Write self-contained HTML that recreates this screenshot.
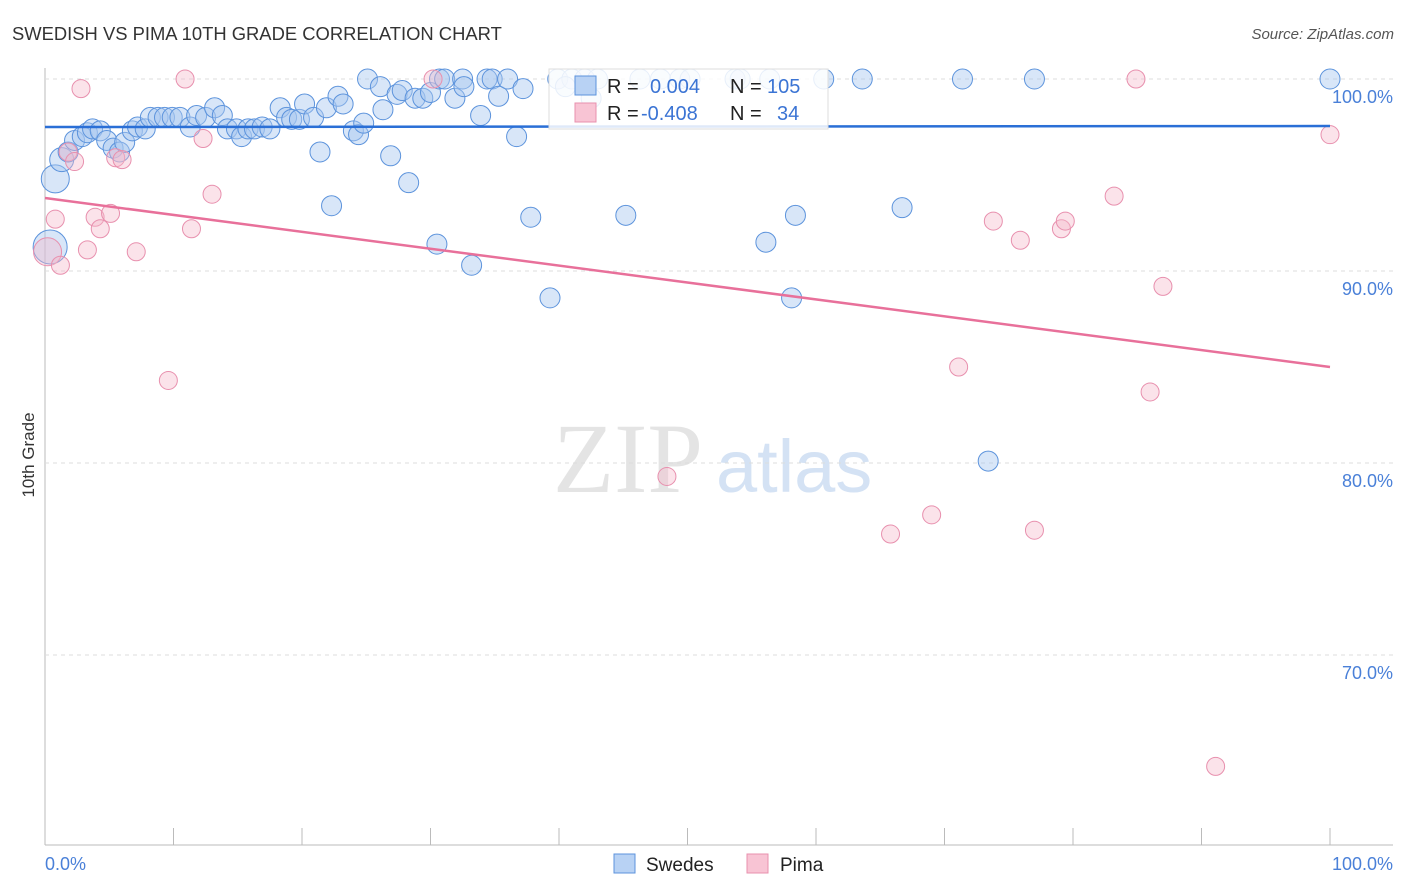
<!DOCTYPE html>
<html><head><meta charset="utf-8"><style>
body{margin:0;background:#fff;font-family:"Liberation Sans",sans-serif}
svg{display:block}
</style></head><body>
<svg id="chart" width="1406" height="892">
<text x="12" y="40" font-size="18.4" fill="#333">SWEDISH VS PIMA 10TH GRADE CORRELATION CHART</text>
<text x="1394" y="39" font-size="15" fill="#555" font-style="italic" text-anchor="end">Source: ZipAtlas.com</text>
<text x="553" y="492" font-size="100" fill="#e4e4e4" font-family="Liberation Serif,serif">ZIP</text>
<text x="716" y="492" font-size="74" fill="#d4e2f4">atlas</text>
<text x="34" y="455" font-size="17" fill="#333" text-anchor="middle" transform="rotate(-90 34 455)">10th Grade</text>
<g id="grid"></g><g id="pts"></g><g id="lines"></g>
<g>
<rect x="549" y="69" width="279" height="60" fill="#fff" fill-opacity="0.85" stroke="#ddd"/>
<rect x="575" y="76" width="21" height="19" fill="#b8d2f4" stroke="#5c93dc"/>
<rect x="575" y="103" width="21" height="19" fill="#f8c4d4" stroke="#e890ae"/>
<text x="607" y="93" font-size="20" fill="#222">R = </text><text x="650" y="93" font-size="20" fill="#3b74d4">0.004</text>
<text x="730" y="93" font-size="20" fill="#222">N = </text><text x="767" y="93" font-size="20" fill="#3b74d4">105</text>
<text x="607" y="120" font-size="20" fill="#222">R = </text><text x="641" y="120" font-size="20" fill="#3b74d4">-0.408</text>
<text x="730" y="120" font-size="20" fill="#222">N = </text><text x="777" y="120" font-size="20" fill="#3b74d4">34</text>
</g>
<g>
<rect x="614" y="854" width="21" height="19" fill="#b8d2f4" stroke="#5c93dc"/>
<text x="646" y="871" font-size="19" fill="#222">Swedes</text>
<rect x="747" y="854" width="21" height="19" fill="#f8c4d4" stroke="#e890ae"/>
<text x="780" y="871" font-size="19" fill="#222">Pima</text>
</g>
</svg>
<script>
const yTicks=[100,90,80,70];
const xTickLabels=["0.0%","100.0%"];
const blueX=[0.8,0.4,1.3,1.8,2.3,2.9,3.3,3.7,4.3,4.8,5.3,5.8,6.2,6.8,7.2,7.8,8.2,8.8,9.3,9.9,10.5,11.3,11.8,12.5,13.2,13.8,14.2,14.9,15.3,15.8,16.3,16.9,17.5,18.3,18.8,19.2,19.8,20.2,20.9,21.4,21.9,22.3,22.8,23.2,24.0,24.4,24.8,25.1,26.1,26.3,26.9,27.4,27.8,28.3,28.8,29.4,30.0,30.5,30.7,31.1,31.9,32.5,32.6,33.2,33.9,34.4,34.8,35.3,36.0,36.7,37.2,37.8,39.3,39.9,41.0,42.0,43.0,45.2,46.3,47.9,49.4,50.2,53.7,54.1,56.1,56.4,58.1,58.4,60.6,63.6,66.7,71.4,73.4,77.0,100,40.5,42.5];
const blueY=[94.8,91.25,95.8,96.2,96.8,97.0,97.2,97.4,97.3,96.8,96.4,96.2,96.7,97.3,97.5,97.4,98.0,98.0,98.0,98.0,98.0,97.5,98.1,98.0,98.5,98.1,97.4,97.4,97.0,97.4,97.4,97.5,97.4,98.5,98.0,97.9,97.9,98.7,98.0,96.2,98.5,93.4,99.1,98.7,97.3,97.1,97.7,100,99.6,98.4,96.0,99.2,99.4,94.6,99.0,99.0,99.3,91.4,100,100,99.0,100,99.6,90.3,98.1,100,100,99.1,100,97.0,99.5,92.8,88.6,100,100,100,100,92.9,100,100,100,100,100,100,91.5,100,88.6,92.9,100,100,93.3,100,80.1,100,100,99.6,99.0];
const blueR=[14,17,12,10,10,10,10,10,10,10,10,10,10,10,10,10,10,10,10,10,10,10,10,10,10,10,10,10,10,10,10,10,10,10,10,10,10,10,10,10,10,10,10,10,10,10,10,10,10,10,10,10,10,10,10,10,10,10,10,10,10,10,10,10,10,10,10,10,10,10,10,10,10,10,10,10,10,10,10,10,10,10,10,10,10,10,10,10,10,10,10,10,10,10,10,10,10];
const pinkX=[0.2,0.8,1.2,1.8,2.3,2.8,3.3,3.9,4.3,5.1,5.5,6.0,7.1,9.6,10.9,11.4,12.3,13.0,30.2,48.4,65.8,69.0,71.1,73.8,75.9,77.0,79.1,79.4,83.2,84.9,86.0,87.0,91.1,100];
const pinkY=[91.0,92.7,90.3,96.2,95.7,99.5,91.1,92.8,92.2,93.0,95.9,95.8,91.0,84.3,100,92.2,96.9,94.0,100,79.3,76.3,77.3,85.0,92.6,91.6,76.5,92.2,92.6,93.9,100,83.7,89.2,64.2,97.1];
const blueTrend=[97.5,97.55];
const pinkTrend=[93.8,85.0];
const NS="http://www.w3.org/2000/svg";
const X=v=>45+v*12.85, Y=v=>79+(100-v)*19.2;
function mk(p,t,a){const e=document.createElementNS(NS,t);for(const k in a)e.setAttribute(k,a[k]);p.appendChild(e);return e;}
const grid=document.getElementById('grid');
mk(grid,'line',{x1:45,y1:68,x2:45,y2:845,stroke:'#bbb'});
mk(grid,'line',{x1:45,y1:845,x2:1393,y2:845,stroke:'#bbb'});
yTicks.forEach(t=>{
 mk(grid,'line',{x1:45,y1:Y(t),x2:1393,y2:Y(t),stroke:'#ddd','stroke-dasharray':'4,4'});
 const tx=mk(grid,'text',{x:1393,y:Y(t)+24,'font-size':18,fill:'#4a80d8','text-anchor':'end'});
 tx.textContent=t.toFixed(1)+'%';
 
 
});
for(let i=0;i<=10;i++){mk(grid,'line',{x1:X(i*10),y1:828,x2:X(i*10),y2:845,stroke:'#bbb'});}
const l0=mk(grid,'text',{x:45,y:870,'font-size':18,fill:'#4a80d8'});l0.textContent=xTickLabels[0];


const l1=mk(grid,'text',{x:1393,y:870,'font-size':18,fill:'#4a80d8','text-anchor':'end'});l1.textContent=xTickLabels[1];


const pts=document.getElementById('pts');
blueX.forEach((x,i)=>{const c=mk(pts,'circle',{cx:X(x),cy:Y(blueY[i]),r:blueR[i]||10,fill:'#a9c8f0','fill-opacity':0.45,stroke:'#5c93dc','stroke-width':1});
 
 });
pinkX.forEach((x,i)=>{const c=mk(pts,'circle',{cx:X(x),cy:Y(pinkY[i]),r:i==0?14:9,fill:'#f6b8cb','fill-opacity':0.4,stroke:'#e890ae','stroke-width':1});
 
 });
const lines=document.getElementById('lines');
const bl=mk(lines,'line',{x1:X(0),y1:Y(blueTrend[0]),x2:X(100),y2:Y(blueTrend[1]),stroke:'#2a6fd6','stroke-width':2.5});


const pl=mk(lines,'line',{x1:X(0),y1:Y(pinkTrend[0]),x2:X(100),y2:Y(pinkTrend[1]),stroke:'#e8709a','stroke-width':2.5});


</script>
</body></html>
